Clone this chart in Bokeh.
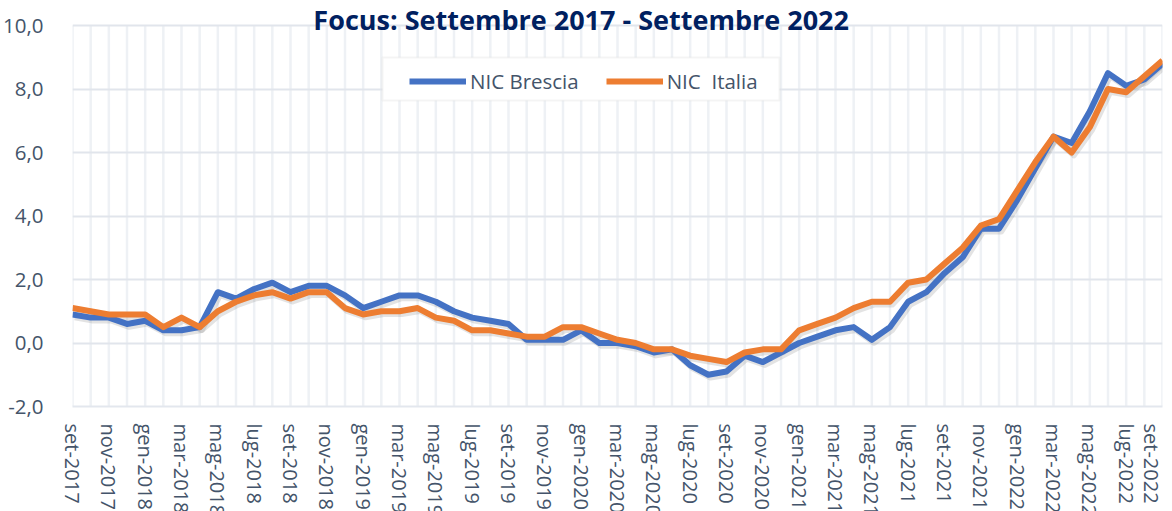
from bokeh.plotting import figure
from bokeh.models import (Range1d, FixedTicker, Legend, LegendItem, Label,
                          BoxAnnotation, ColumnDataSource)
from bokeh.embed import file_html
from bokeh.resources import INLINE

# ---------------- data ----------------
tick_labels = ["set-2017", "nov-2017", "gen-2018", "mar-2018", "mag-2018", "lug-2018",
               "set-2018", "nov-2018", "gen-2019", "mar-2019", "mag-2019", "lug-2019",
               "set-2019", "nov-2019", "gen-2020", "mar-2020", "mag-2020", "lug-2020",
               "set-2020", "nov-2020", "gen-2021", "mar-2021", "mag-2021", "lug-2021",
               "set-2021", "nov-2021", "gen-2022", "mar-2022", "mag-2022", "lug-2022",
               "set-2022"]

nic_brescia = [0.9, 0.8, 0.8, 0.6, 0.7, 0.4, 0.4, 0.5, 1.6, 1.4, 1.7, 1.9, 1.6, 1.8, 1.8, 1.5,
               1.1, 1.3, 1.5, 1.5, 1.3, 1.0, 0.8, 0.7, 0.6, 0.1, 0.1, 0.1, 0.4, 0.0, 0.0,
               -0.1, -0.3, -0.2, -0.7, -1.0, -0.9, -0.4, -0.6, -0.3, 0.0, 0.2, 0.4, 0.5, 0.1,
               0.5, 1.3, 1.6, 2.2, 2.7, 3.6, 3.6, 4.5, 5.5, 6.5, 6.3, 7.3, 8.5, 8.1, 8.3, 8.8]

nic_italia = [1.1, 1.0, 0.9, 0.9, 0.9, 0.5, 0.8, 0.5, 1.0, 1.3, 1.5, 1.6, 1.4, 1.6, 1.6, 1.1,
              0.9, 1.0, 1.0, 1.1, 0.8, 0.7, 0.4, 0.4, 0.3, 0.2, 0.2, 0.5, 0.5, 0.3, 0.1,
              0.0, -0.2, -0.2, -0.4, -0.5, -0.6, -0.3, -0.2, -0.2, 0.4, 0.6, 0.8, 1.1, 1.3,
              1.3, 1.9, 2.0, 2.5, 3.0, 3.7, 3.9, 4.8, 5.7, 6.5, 6.0, 6.8, 8.0, 7.9, 8.4, 8.9]

y_ticks = [-2, 0, 2, 4, 6, 8, 10]
y_tick_labels = ["-2,0", "0,0", "2,0", "4,0", "6,0", "8,0", "10,0"]

title_text = "Focus: Settembre 2017 - Settembre 2022"
series_names = ["NIC Brescia", "NIC  Italia"]

# ---------------- figure ----------------
n = len(nic_brescia)
idx = list(range(n))
src = ColumnDataSource(dict(x=idx, b=nic_brescia, i=nic_italia))
gsrc = ColumnDataSource(dict(x=idx, y0=[y_ticks[0]] * n, y1=[y_ticks[-1]] * n))

FONT = "Open Sans"
TXT = "#44546A"

PX_PER_UNIT = 31.75          # vertical scale of the frame
HEAD = 25                    # pixels of frame above the top tick (room for the title)
y_top = y_ticks[-1] + HEAD / PX_PER_UNIT
frame_h = round((y_top - y_ticks[0]) * PX_PER_UNIT)

p = figure(frame_width=1090, frame_height=frame_h, output_backend="svg", toolbar_location=None,
           x_range=Range1d(0, n - 1), y_range=Range1d(y_ticks[0], y_top),
           min_border_left=72, min_border_right=2, min_border_top=0, min_border_bottom=0)
p.outline_line_color = None
p.background_fill_color = "white"
p.border_fill_color = "white"

# shadow ranges (same data, slightly shifted rendering)
p.extra_x_ranges = {"sh": Range1d(-0.12, n - 1 - 0.12)}
p.extra_y_ranges = {"sh": Range1d(y_ticks[0] + 0.09, y_top + 0.09)}

# axes
p.xaxis.ticker = FixedTicker(ticks=idx[::2])
p.xaxis.major_label_overrides = {k: lab for k, lab in zip(idx[::2], tick_labels)}
p.xaxis.major_label_orientation = "vertical"
p.xaxis.major_label_text_font = FONT
p.xaxis.major_label_text_font_size = "20px"
p.xaxis.major_label_text_color = TXT
p.xaxis.major_label_standoff = 11
p.xaxis.axis_line_color = "#e3e7ee"
p.xaxis.axis_line_width = 2
p.xaxis.major_tick_line_color = None
p.xaxis.minor_tick_line_color = None

p.yaxis.ticker = FixedTicker(ticks=y_ticks)
p.yaxis.major_label_overrides = {k: lab for k, lab in zip(y_ticks, y_tick_labels)}
p.yaxis.major_label_text_font = FONT
p.yaxis.major_label_text_font_size = "20.5px"
p.yaxis.major_label_text_color = TXT
p.yaxis.major_label_standoff = 23
p.yaxis.axis_line_color = None
p.yaxis.major_tick_line_color = None
p.yaxis.minor_tick_line_color = None

# vertical grid lines (monthly), limited to the tick span
p.xgrid.grid_line_color = None
p.segment(x0="x", y0="y0", x1="x", y1="y1", source=gsrc, line_color="#eef1f5",
          line_width=2.5, level="underlay")
p.ygrid.grid_line_color = "#e1e5ec"
p.ygrid.grid_line_width = 2

# shadows
for col in ["b", "i"]:
    p.line("x", col, source=src, line_width=6, line_color="#7f7f7f", line_alpha=0.22,
           line_join="round", x_range_name="sh", y_range_name="sh")

rb = p.line("x", "b", source=src, line_width=6, line_color="#4472C4", line_join="round")
ri = p.line("x", "i", source=src, line_width=6, line_color="#ED7D31", line_join="round")

# legend box
box = BoxAnnotation(left=17.06, right=38.92, top=8.99, bottom=7.64,
                    fill_color="white", fill_alpha=1.0,
                    line_color="#d9d9d9", line_width=2)
p.add_layout(box)

legend = Legend(items=[LegendItem(label=series_names[0], renderers=[rb]),
                       LegendItem(label=series_names[1], renderers=[ri])],
                orientation="horizontal", location=(337, 311),
                padding=0, margin=0, spacing=27, glyph_width=57, glyph_height=20,
                label_standoff=4, border_line_alpha=0, background_fill_alpha=0,
                label_text_font=FONT, label_text_font_size="20.5px", label_text_color=TXT)
p.add_layout(legend)

title = Label(x=28, y=y_ticks[-1], y_offset=6, text=title_text, text_align="center",
              text_baseline="middle", text_font=FONT, text_font_style="bold",
              text_font_size="27px", text_color="#002060")
p.add_layout(title)

open("out.html", "w").write(file_html(p, INLINE))
